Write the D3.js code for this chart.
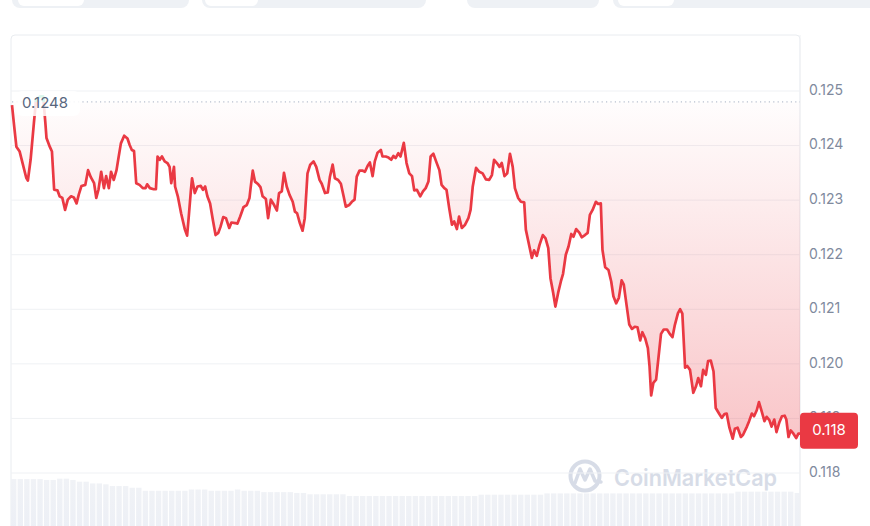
<!DOCTYPE html>
<html>
<head>
<meta charset="utf-8">
<script src="https://cdn.jsdelivr.net/npm/d3@7"></script>
<style>
    body { margin: 0; background: #fff; }
    svg { display: block; font-family: Inter, "Noto Sans", sans-serif; }
</style>
</head>
<body>
<div id="chartContainer"></div>
<script>
// minutes since start of the 24h window
const times = [
    0,4,8,14,20,26,29,34,40,44,
    51,57,61,63,69,73,77,83,87,92,
    97,102,108,113,118,122,127,134,139,144,
    150,154,158,163,168,172,177,181,186,191,
    195,199,205,211,215,219,223,227,233,239,
    244,247,252,259,263,266,270,274,279,284,
    288,291,296,298,303,309,316,320,323,327,
    329,334,339,345,349,353,357,362,367,372,
    377,381,386,391,397,401,408,412,417,423,
    429,434,436,440,444,450,454,458,464,468,
    473,479,484,488,493,497,502,507,513,517,
    521,526,531,535,540,545,551,556,562,566,
    572,577,581,586,590,596,601,606,610,616,
    621,626,630,635,641,645,650,654,659,663,
    668,674,677,683,688,693,697,701,706,710,
    716,721,726,731,735,740,746,751,756,761,
    765,770,775,781,785,790,794,799,804,808,
    813,817,822,828,834,838,842,848,854,860,
    866,872,877,881,886,891,895,900,905,910,
    915,919,925,930,936,939,943,950,954,959,
    964,970,975,980,984,989,993,998,1003,1007,
    1012,1017,1022,1026,1031,1037,1041,1047,1052,1056,
    1061,1067,1071,1076,1079,1084,1090,1095,1099,1104,
    1109,1114,1118,1123,1128,1133,1138,1143,1148,1152,
    1157,1162,1165,1168,1172,1177,1181,1186,1191,1197,
    1202,1207,1211,1217,1221,1225,1230,1234,1239,1245,
    1250,1254,1259,1263,1268,1272,1277,1282,1286,1292,
    1297,1302,1306,1311,1317,1321,1326,1332,1336,1343,
    1347,1352,1356,1361,1365,1370,1375,1379,1384,1388,
    1393,1397,1402,1407,1412,1415,1419,1423,1428,1433,
    1437,1440
];

const prices = [
    0.12474,0.12435,0.12398,0.12389,0.12365,0.12341,0.12336,0.12374,0.12441,0.12484,
    0.12490,0.12490,0.12441,0.12414,0.12398,0.12389,0.12319,0.12318,0.12307,0.12304,
    0.12282,0.12301,0.12307,0.12305,0.12294,0.12310,0.12326,0.12328,0.12355,0.12342,
    0.12331,0.12304,0.12319,0.12352,0.12322,0.12344,0.12322,0.12352,0.12337,0.12355,
    0.12380,0.12404,0.12418,0.12413,0.12401,0.12392,0.12390,0.12331,0.12328,0.12322,
    0.12322,0.12329,0.12322,0.12320,0.12320,0.12380,0.12374,0.12380,0.12371,0.12368,
    0.12361,0.12331,0.12361,0.12325,0.12307,0.12276,0.12246,0.12235,0.12270,0.12319,
    0.12340,0.12313,0.12325,0.12326,0.12319,0.12325,0.12307,0.12294,0.12264,0.12236,
    0.12240,0.12251,0.12269,0.12267,0.12249,0.12259,0.12258,0.12257,0.12270,0.12287,
    0.12291,0.12304,0.12322,0.12354,0.12334,0.12329,0.12324,0.12307,0.12302,0.12267,
    0.12301,0.12291,0.12281,0.12313,0.12316,0.12350,0.12325,0.12310,0.12297,0.12279,
    0.12276,0.12258,0.12244,0.12267,0.12349,0.12365,0.12371,0.12361,0.12337,0.12330,
    0.12313,0.12314,0.12343,0.12365,0.12340,0.12337,0.12330,0.12307,0.12288,0.12291,
    0.12297,0.12301,0.12343,0.12354,0.12354,0.12352,0.12363,0.12369,0.12344,0.12371,
    0.12387,0.12392,0.12380,0.12380,0.12378,0.12374,0.12381,0.12377,0.12386,0.12380,
    0.12405,0.12368,0.12349,0.12344,0.12318,0.12319,0.12307,0.12316,0.12322,0.12334,
    0.12380,0.12385,0.12371,0.12355,0.12328,0.12322,0.12319,0.12285,0.12255,0.12261,
    0.12247,0.12270,0.12249,0.12255,0.12267,0.12282,0.12325,0.12359,0.12352,0.12349,
    0.12338,0.12337,0.12346,0.12374,0.12368,0.12361,0.12368,0.12344,0.12349,0.12385,
    0.12361,0.12322,0.12304,0.12297,0.12296,0.12246,0.12227,0.12194,0.12208,0.12198,
    0.12218,0.12236,0.12230,0.12212,0.12157,0.12130,0.12105,0.12130,0.12151,0.12165,
    0.12200,0.12215,0.12238,0.12233,0.12247,0.12240,0.12232,0.12236,0.12240,0.12273,
    0.12282,0.12297,0.12293,0.12294,0.12209,0.12177,0.12172,0.12151,0.12124,0.12111,
    0.12121,0.12153,0.12145,0.12108,0.12072,0.12064,0.12068,0.12067,0.12043,0.12058,
    0.12047,0.12029,0.11996,0.11942,0.11965,0.11971,0.12008,0.12055,0.12063,0.12063,
    0.12055,0.12049,0.12070,0.12093,0.12100,0.12092,0.11993,0.11996,0.11989,0.11947,
    0.11959,0.11974,0.11959,0.11989,0.11980,0.12005,0.12006,0.11986,0.11919,0.11909,
    0.11901,0.11908,0.11909,0.11883,0.11863,0.11881,0.11883,0.11866,0.11870,0.11885,
    0.11895,0.11909,0.11904,0.11915,0.11930,0.11913,0.11895,0.11903,0.11897,0.11885,
    0.11898,0.11875,0.11892,0.11904,0.11905,0.11898,0.11866,0.11878,0.11872,0.11864,
    0.11872,0.11872
];

const openPrice = 0.1248;
const openLabel = "0.1248";
const lastLabel = "0.118";

const yTicks = [0.125, 0.124, 0.123, 0.122, 0.121, 0.120, 0.119, 0.118];
const yTickLabels = ["0.125", "0.124", "0.123", "0.122", "0.121", "0.120", "0.119", "0.118"];

// rolling volume (millions), one bar per slot
const volumes = [
    27.9,27.9,27.9,27.9,27.9,27.7,27.7,28.0,28.0,27.7,
    27.3,27.3,26.9,26.9,26.7,26.3,26.3,26.3,25.9,25.9,
    25.2,25.2,25.2,25.2,25.2,25.2,25.2,25.5,25.5,25.5,
    25.2,25.2,25.2,25.2,25.5,25.2,25.2,25.2,24.9,24.9,
    24.9,24.9,24.9,24.7,24.7,24.4,24.4,24.4,24.4,24.4,
    24.4,24.0,24.0,24.0,24.0,24.0,24.0,24.0,24.0,24.0,
    24.0,24.0,24.0,24.0,24.0,24.0,24.0,24.0,24.0,24.0,
    24.0,24.3,24.3,24.3,24.3,24.3,24.3,24.3,24.3,24.3,
    24.3,24.6,24.6,24.6,24.6,24.6,24.6,24.6,24.6,24.6,
    24.6,24.6,24.6,24.6,24.6,24.6,24.6,24.6,24.6,24.6,
    24.6,24.6,24.6,24.6,24.6,24.6,24.6,24.6,24.6,24.6,
    25.0,25.0,25.0,25.0,25.0,25.0,25.0,25.0,25.0,24.7
];

function drawChart()
{
    const w = 870, h = 526;
    const plot = {left: 11, right: 800, top: 35};

    const svg = d3.select("#chartContainer")
                    .append("svg")
                    .attr("width", w)
                    .attr("height", h);

    const defs = svg.append("defs");

    // fade of the red fill under the open line
    const redGrad = defs.append("linearGradient")
        .attr("id", "redFill")
        .attr("gradientUnits", "userSpaceOnUse")
        .attr("x1", 0).attr("x2", 0)
        .attr("y1", 102).attr("y2", 450);
    redGrad.append("stop").attr("offset", 0).attr("stop-color", "#ea3943").attr("stop-opacity", 0.01);
    redGrad.append("stop").attr("offset", 1).attr("stop-color", "#ea3943").attr("stop-opacity", 0.3);

    const greenGrad = defs.append("linearGradient")
        .attr("id", "greenFill")
        .attr("gradientUnits", "userSpaceOnUse")
        .attr("x1", 0).attr("x2", 0)
        .attr("y1", 102).attr("y2", 90);
    greenGrad.append("stop").attr("offset", 0).attr("stop-color", "#16c784").attr("stop-opacity", 0.02);
    greenGrad.append("stop").attr("offset", 1).attr("stop-color", "#16c784").attr("stop-opacity", 0.2);

    const volGrad = defs.append("linearGradient")
        .attr("id", "volFill")
        .attr("x1", 0).attr("x2", 0).attr("y1", 0).attr("y2", 1);
    volGrad.append("stop").attr("offset", 0).attr("stop-color", "#f0f2f6");
    volGrad.append("stop").attr("offset", 1).attr("stop-color", "#e7ebf5");

    // scales
    const xScale = d3.scaleLinear()
                        .domain([0, 1440])
                        .range([12, plot.right]);

    const yScale = d3.scaleLinear()
                        .domain([0.118, 0.125])
                        .range([473, 91]);

    const volX = d3.scaleBand()
                        .domain(d3.range(volumes.length))
                        .range([plot.left, plot.right])
                        .paddingInner(0.18);

    const volY = d3.scaleLinear()
                        .domain([0, 30])
                        .range([600, 470]);

    const baseY = yScale(openPrice);

    // clip areas above / below the open line
    defs.append("clipPath").attr("id", "below")
        .append("rect")
        .attr("x", 0).attr("y", baseY).attr("width", w).attr("height", h);
    defs.append("clipPath").attr("id", "above")
        .append("rect")
        .attr("x", 0).attr("y", 0).attr("width", w).attr("height", baseY);

    // top tabs (cut off by the window)
    const tabs = svg.append("g");
    [[12, 177], [202, 224], [467, 132], [613, 270]].forEach(function(t){
        tabs.append("rect")
            .attr("x", t[0]).attr("y", -12)
            .attr("width", t[1]).attr("height", 20)
            .attr("rx", 8)
            .attr("fill", "#eef1f5");
    });
    [[18, 66], [205, 53], [618, 56]].forEach(function(t){
        tabs.append("rect")
            .attr("x", t[0]).attr("y", -12)
            .attr("width", t[1]).attr("height", 18)
            .attr("rx", 6)
            .attr("fill", "#ffffff");
    });

    // card frame
    svg.append("rect")
        .attr("x", plot.left).attr("y", plot.top)
        .attr("width", plot.right - plot.left).attr("height", 520)
        .attr("rx", 4)
        .attr("fill", "none")
        .attr("stroke", "#e9ecf0");

    // volume bars
    svg.append("g")
        .selectAll("rect")
        .data(volumes)
        .join("rect")
        .attr("x", (d, i) => volX(i))
        .attr("y", d => volY(d))
        .attr("width", volX.bandwidth())
        .attr("height", d => volY(0) - volY(d))
        .attr("fill", "url(#volFill)");

    // watermark
    const mark = svg.append("g").attr("opacity", 0.9);
    mark.append("circle")
        .attr("cx", 585).attr("cy", 476).attr("r", 14.5)
        .attr("fill", "none")
        .attr("stroke", "#d3d9e5")
        .attr("stroke-width", 4);
    mark.append("path")
        .attr("d", "M575,483 L580,469 L585,480 L590,469 L595,481 L601,482")
        .attr("fill", "none")
        .attr("stroke", "#d3d9e5")
        .attr("stroke-width", 3.5)
        .attr("stroke-linejoin", "round")
        .attr("stroke-linecap", "round");
    mark.append("text")
        .attr("x", 614).attr("y", 486)
        .attr("font-size", 23)
        .attr("font-weight", 600)
        .attr("textLength", 163)
        .attr("lengthAdjust", "spacingAndGlyphs")
        .attr("fill", "#d3d9e5")
        .text("CoinMarketCap");

    // grid lines
    svg.append("g")
        .selectAll("line")
        .data(yTicks)
        .join("line")
        .attr("x1", plot.left).attr("x2", plot.right)
        .attr("y1", d => yScale(d)).attr("y2", d => yScale(d))
        .attr("stroke", "#eff1f4")
        .attr("stroke-width", 1);

    // right edge of plot
    svg.append("line")
        .attr("x1", plot.right).attr("x2", plot.right)
        .attr("y1", plot.top).attr("y2", h)
        .attr("stroke", "#eff1f4");

    const series = times.map((t, i) => ({t: t, price: prices[i]}));

    const area = d3.area()
        .x(d => xScale(d.t))
        .y0(baseY)
        .y1(d => yScale(d.price));

    const line = d3.line()
        .x(d => xScale(d.t))
        .y(d => yScale(d.price));

    svg.append("path")
        .datum(series)
        .attr("d", area)
        .attr("fill", "url(#redFill)")
        .attr("clip-path", "url(#below)");

    svg.append("path")
        .datum(series)
        .attr("d", area)
        .attr("fill", "url(#greenFill)")
        .attr("clip-path", "url(#above)");

    // open price reference line
    svg.append("line")
        .attr("x1", 12).attr("x2", plot.right)
        .attr("y1", baseY).attr("y2", baseY)
        .attr("stroke", "#a6b0c3")
        .attr("stroke-width", 1)
        .attr("stroke-dasharray", "1.2,3.2");

    svg.append("path")
        .datum(series)
        .attr("d", line)
        .attr("fill", "none")
        .attr("stroke", "#ea3943")
        .attr("stroke-width", 2.7)
        .attr("stroke-linejoin", "round")
        .attr("clip-path", "url(#below)");

    svg.append("path")
        .datum(series)
        .attr("d", line)
        .attr("fill", "none")
        .attr("stroke", "#16c784")
        .attr("stroke-width", 2.7)
        .attr("stroke-linejoin", "round")
        .attr("clip-path", "url(#above)");

    // open price label
    svg.append("rect")
        .attr("x", 16).attr("y", 91)
        .attr("width", 64).attr("height", 25)
        .attr("rx", 6)
        .attr("fill", "#ffffff")
        .attr("opacity", 0.85);
    svg.append("text")
        .attr("x", 22).attr("y", baseY + 1.5)
        .attr("dominant-baseline", "middle")
        .attr("font-size", 15)
        .attr("fill", "#58667e")
        .text(openLabel);

    // y axis labels
    svg.append("g")
        .selectAll("text")
        .data(yTicks)
        .join("text")
        .attr("x", 809)
        .attr("y", d => yScale(d))
        .attr("dominant-baseline", "middle")
        .attr("font-size", 14)
        .attr("fill", "#808a9d")
        .text((d, i) => yTickLabels[i]);

    // last price tag
    const lastY = yScale(prices[prices.length - 1]);
    svg.append("rect")
        .attr("x", plot.right).attr("y", lastY - 21)
        .attr("width", 58).attr("height", 36)
        .attr("rx", 4)
        .attr("fill", "#ea3943");
    svg.append("text")
        .attr("x", plot.right + 29).attr("y", lastY - 3)
        .attr("text-anchor", "middle")
        .attr("dominant-baseline", "middle")
        .attr("font-size", 15)
        .attr("fill", "#ffffff")
        .text(lastLabel);
}

drawChart();
</script>
</body>
</html>
